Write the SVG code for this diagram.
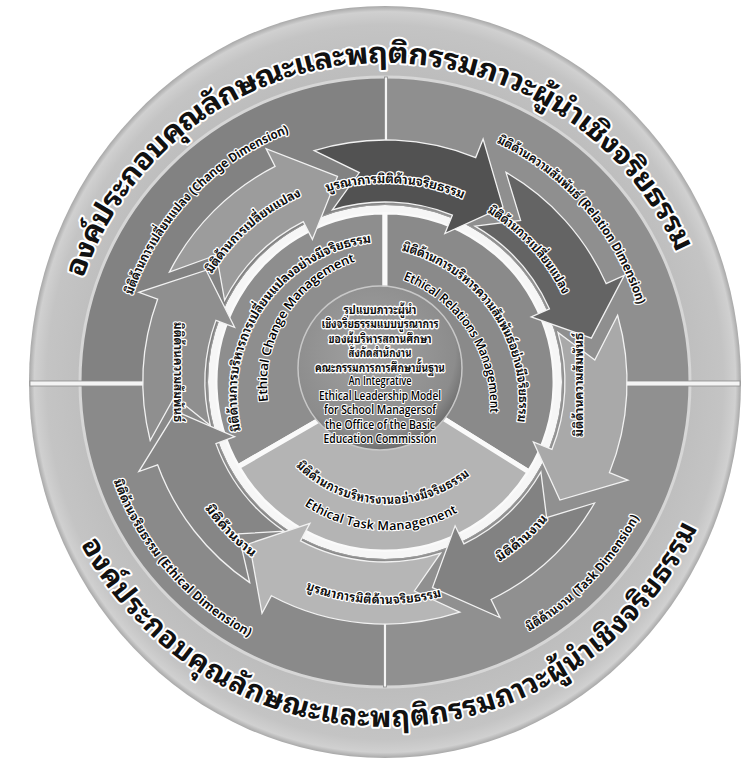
<svg xmlns="http://www.w3.org/2000/svg" width="750" height="759" viewBox="0 0 750 759">
<style>
.t{font-family:"Noto Sans Thai Looped","Loma","Garuda","Noto Serif Thai","Noto Sans Thai","Noto Sans","DejaVu Sans",sans-serif;font-weight:bold;fill:#111;stroke:#fff;stroke-width:2.6;paint-order:stroke;stroke-linejoin:round}
.title{font-size:29px;stroke-width:4}
.lab{font-size:12.5px}
.en{font-family:"Open Sans","Noto Sans","DejaVu Sans",sans-serif;font-weight:600;fill:#000;stroke-width:2.2}
.ctr{font-size:12px;stroke-width:2.8}
.arw{stroke:#f2f2f2;stroke-width:1.3;stroke-linejoin:miter}
.sec{stroke:#fafafa;stroke-width:5}
.div{fill:#f4f4f4;stroke:#8c8c8c;stroke-width:0.8}
</style>
<defs>
<radialGradient id="gOuter" cx="0.5" cy="0.5" r="0.5">
<stop offset="0.8" stop-color="#bcbcbc"/>
<stop offset="0.95" stop-color="#c4c4c4"/>
<stop offset="0.985" stop-color="#d0d0d0"/>
<stop offset="1" stop-color="#a8a8a8"/>
</radialGradient>
<radialGradient id="gCenter" cx="0.45" cy="0.4" r="0.6">
<stop offset="0" stop-color="#a2a2a2"/>
<stop offset="0.85" stop-color="#8c8c8c"/>
<stop offset="1" stop-color="#6f6f6f"/>
</radialGradient>
<path id="tTop" d="M71.1,273.9 A332,332 0 0 1 688.3,247"/>
<path id="tBot" d="M91.9,537.9 A332,332 0 0 0 685.9,522.3"/>
<path id="dimCh" d="M126.9,293.1 A273,273 0 0 1 287.2,127.1"/>
<path id="dimRe" d="M499.1,137.3 A270,270 0 0 1 643.2,303.1"/>
<path id="dimEt" d="M119.1,478.8 A283,283 0 0 0 252.1,631.9"/>
<path id="dimTa" d="M526,626.2 A282,282 0 0 0 634,514.4"/>
<path id="arA1" d="M206.9,270.7 A210,210 0 0 1 299.6,190.2"/>
<path id="arA2" d="M325.1,186 A205,205 0 0 1 465.1,193.3"/>
<path id="arA3" d="M490.1,207.1 A204,204 0 0 1 568.4,292.6"/>
<path id="arA5" d="M496.2,556.6 A207,207 0 0 0 543.6,515.1"/>
<path id="arA6" d="M307.6,583.7 A216,216 0 0 0 440.9,590.6"/>
<path id="arA7" d="M209.7,504.8 A214,214 0 0 0 256.2,552.9"/>
<path id="inCh" d="M235,432 A160,160 0 0 1 376,236"/>
<path id="inChEn" d="M263,402 A135,135 0 0 1 356,256"/>
<path id="inRe" d="M403,245 A160,160 0 0 1 523,425"/>
<path id="inReEn" d="M405,275 A140,140 0 0 1 495,415"/>
<path id="inTa" d="M300,462 A125,125 0 0 0 468,469"/>
<path id="inTaEn" d="M307,501 A144,144 0 0 0 457,507"/>
</defs>

<g id="outer-ring">
<ellipse cx="385" cy="382" rx="356" ry="376" fill="url(#gOuter)"/>
</g>

<g id="dimension-ring">
<path d="M385,382 L80,382 A305,305 0 0 1 385,77 Z" fill="#828282"/>
<path d="M385,382 L385,77 A305,305 0 0 1 690,382 Z" fill="#8f8f8f"/>
<path d="M385,382 L690,382 A305,305 0 0 1 385,687 Z" fill="#909090"/>
<path d="M385,382 L385,687 A305,305 0 0 1 80,382 Z" fill="#8a8a8a"/>
<circle cx="385" cy="382" r="305" fill="none" stroke="#d6d6d6" stroke-width="3"/>
</g>

<g id="dividers">
<rect class="div" x="30" y="381" width="114" height="5"/>
<rect class="div" x="626" y="381" width="114" height="5"/>
<rect class="div" x="384.5" y="77" width="3" height="64"/>
<rect class="div" x="383.5" y="623" width="3" height="64"/>
</g>

<g id="sector-change">
<path class="sec" d="M385,382 L237.8,467 A170,170 0 0 1 385,212 Z" fill="#8e8e8e"/>
</g>
<g id="sector-relation">
<path class="sec" d="M385,382 L385,212 A170,170 0 0 1 529.2,472.1 Z" fill="#8a8a8a"/>
</g>
<g id="sector-task">
<path class="sec" d="M385,382 L529.2,472.1 A170,170 0 0 1 237.8,467 Z" fill="#b4b4b4"/>
</g>

<g id="white-ring">
<circle cx="385" cy="382" r="173.5" fill="none" stroke="#f6f6f6" stroke-width="7"/>
<circle cx="385" cy="382" r="177.5" fill="none" stroke="#9a9a9a" stroke-width="1"/>
</g>

<g id="connectors">
<path class="arw" fill="#9c9c9c" d="M169.4,272.1 A242,242 0 0 1 275.1,166.4 L266.1,148.6 L337.5,176.4 L312.4,239.4 L303.3,221.6 A180,180 0 0 0 224.6,300.3 L216.5,255 Z"/>
<path class="arw" fill="#525252" d="M314.2,150.6 A242,242 0 0 1 475.7,157.6 L483.1,139.1 L503,207.1 L444.9,233.6 L452.4,215.1 A180,180 0 0 0 332.4,209.9 L359.3,172.6 Z"/>
<path class="arw" fill="#646464" d="M506,172.4 A242,242 0 0 1 606.1,283.6 L624.3,275.4 L591.4,338.1 L531.2,316.9 L549.4,308.8 A180,180 0 0 0 475,226.1 L520.6,220.4 Z"/>
<path class="arw" fill="#a9a9a9" d="M617.6,315.3 A242,242 0 0 1 609.4,472.7 L627.9,480.1 L559.9,500 L533.4,441.9 L551.9,449.4 A180,180 0 0 0 558,332.4 L594.8,360 Z"/>
<path class="arw" fill="#828282" d="M594.6,503 A242,242 0 0 1 491.1,599.5 L499.9,617.5 L432.5,587.6 L455.1,525.8 L463.9,543.8 A180,180 0 0 0 540.9,472 L546.6,517.6 Z"/>
<path class="arw" fill="#b6b6b6" d="M459.8,612.2 A242,242 0 0 1 271.4,595.7 L262,613.3 L249.4,543.6 L309.9,523.3 L300.5,540.9 A180,180 0 0 0 440.6,553.2 L414.4,591 Z"/>
<path class="arw" fill="#868686" d="M249.7,582.6 A242,242 0 0 1 157.6,464.8 L138.8,471.6 L176,411.4 L234.6,436.7 L215.9,443.6 A180,180 0 0 0 284.3,531.2 L238.4,533.8 Z"/>
<path class="arw" fill="#8f8f8f" d="M150.2,440.5 A242,242 0 0 1 157.6,299.2 L138.8,292.4 L206.1,270.2 L234.6,327.3 L215.9,320.4 A180,180 0 0 0 210.3,425.5 L174.5,396.7 Z"/>
</g>

<g id="center">
<circle cx="380" cy="368" r="82" fill="url(#gCenter)" stroke="#c8c8c8" stroke-width="1.5"/>
<g class="t ctr" text-anchor="middle" dominant-baseline="central">
<text x="380" y="308" textLength="73" lengthAdjust="spacingAndGlyphs">รูปแบบภาวะผู้นำ</text>
<text x="380" y="322.5" textLength="117" lengthAdjust="spacingAndGlyphs">เชิงจริยธรรมแบบบูรณาการ</text>
<text x="380" y="337" textLength="103" lengthAdjust="spacingAndGlyphs">ของผู้บริหารสถานศึกษา</text>
<text x="380" y="351.5" textLength="63" lengthAdjust="spacingAndGlyphs">สังกัดสำนักงาน</text>
<text x="380" y="366" textLength="130" lengthAdjust="spacingAndGlyphs">คณะกรรมการการศึกษาขั้นฐาน</text>
<text class="en" x="380" y="380.5" textLength="63" lengthAdjust="spacingAndGlyphs">An Integrative</text>
<text class="en" x="380" y="395" textLength="122" lengthAdjust="spacingAndGlyphs">Ethical Leadership Model</text>
<text class="en" x="380" y="409.5" textLength="112" lengthAdjust="spacingAndGlyphs">for School Managersof</text>
<text class="en" x="380" y="424" textLength="110" lengthAdjust="spacingAndGlyphs">the Office of the Basic</text>
<text class="en" x="380" y="438.5" textLength="113" lengthAdjust="spacingAndGlyphs">Education Commission</text>
</g>
</g>

<g id="labels" class="t">
<text class="title" dominant-baseline="central"><textPath href="#tTop" textLength="794" lengthAdjust="spacingAndGlyphs">องค์ประกอบคุณลักษณะและพฤติกรรมภาวะผู้นำเชิงจริยธรรม</textPath></text>
<text class="title" dominant-baseline="central"><textPath href="#tBot" textLength="736" lengthAdjust="spacingAndGlyphs">องค์ประกอบคุณลักษณะและพฤติกรรมภาวะผู้นำเชิงจริยธรรม</textPath></text>

<text class="lab" dominant-baseline="central"><textPath href="#dimCh" textLength="238" lengthAdjust="spacingAndGlyphs">มิติด้านการเปลี่ยนแปลง (Change Dimension)</textPath></text>
<text class="lab" dominant-baseline="central"><textPath href="#dimRe" textLength="226" lengthAdjust="spacingAndGlyphs">มิติด้านความสัมพันธ์ (Relation Dimension)</textPath></text>
<text class="lab" dominant-baseline="central"><textPath href="#dimEt" textLength="207" lengthAdjust="spacingAndGlyphs">มิติด้านจริยธรรม (Ethical Dimension)</textPath></text>
<text class="lab" dominant-baseline="central"><textPath href="#dimTa" textLength="157" lengthAdjust="spacingAndGlyphs">มิติด้านงาน (Task Dimension)</textPath></text>

<text class="lab" dominant-baseline="central"><textPath href="#arA1" textLength="124" lengthAdjust="spacingAndGlyphs">มิติด้านการเปลี่ยนแปลง</textPath></text>
<text class="lab" dominant-baseline="central"><textPath href="#arA2" textLength="143" lengthAdjust="spacingAndGlyphs">บูรณาการมิติด้านจริยธรรม</textPath></text>
<text class="lab" dominant-baseline="central"><textPath href="#arA3" textLength="117" lengthAdjust="spacingAndGlyphs">มิติด้านการเปลี่ยนแปลง</textPath></text>
<text class="lab" dominant-baseline="central" text-anchor="middle" transform="translate(577,385) rotate(-90)" textLength="104" lengthAdjust="spacingAndGlyphs">มิติด้านความสัมพันธ์</text>
<text class="lab" dominant-baseline="central"><textPath href="#arA5" textLength="63" lengthAdjust="spacingAndGlyphs">มิติด้านงาน</textPath></text>
<text class="lab" dominant-baseline="central"><textPath href="#arA6" textLength="135" lengthAdjust="spacingAndGlyphs">บูรณาการมิติด้านจริยธรรม</textPath></text>
<text class="lab" dominant-baseline="central"><textPath href="#arA7" textLength="67" lengthAdjust="spacingAndGlyphs">มิติด้านงาน</textPath></text>
<text class="lab" dominant-baseline="central" text-anchor="middle" transform="translate(180,372) rotate(90)" textLength="100" lengthAdjust="spacingAndGlyphs">มิติด้านความสัมพันธ์</text>

<text class="lab" dominant-baseline="central"><textPath href="#inCh" textLength="268" lengthAdjust="spacingAndGlyphs">มิติด้านการบริหารการเปลี่ยนแปลงอย่างมีจริยธรรม</textPath></text>
<text class="lab en" dominant-baseline="central" font-size="13"><textPath href="#inChEn" textLength="185" lengthAdjust="spacingAndGlyphs">Ethical  Change  Management</textPath></text>
<text class="lab" dominant-baseline="central"><textPath href="#inRe" textLength="235" lengthAdjust="spacingAndGlyphs">มิติด้านการบริหารความสัมพันธ์อย่างมีจริยธรรม</textPath></text>
<text class="lab en" dominant-baseline="central"><textPath href="#inReEn" textLength="176" lengthAdjust="spacingAndGlyphs">Ethical Relations  Management</textPath></text>
<text class="lab" dominant-baseline="central"><textPath href="#inTa" textLength="182" lengthAdjust="spacingAndGlyphs">มิติด้านการบริหารงานอย่างมีจริยธรรม</textPath></text>
<text class="lab en" dominant-baseline="central"><textPath href="#inTaEn" textLength="156" lengthAdjust="spacingAndGlyphs">Ethical Task  Management</textPath></text>
</g>
</svg>
